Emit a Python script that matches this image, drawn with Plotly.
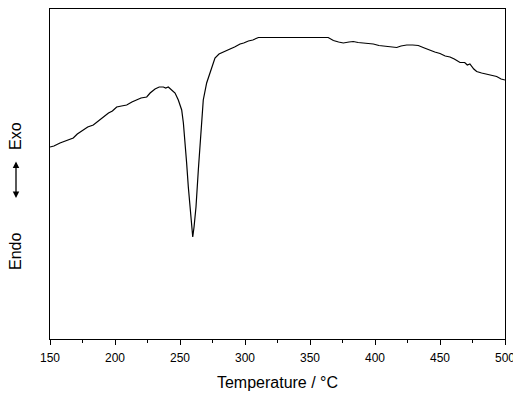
import plotly.graph_objects as go

temperature = [150, 153, 157.7, 162, 167.9, 171, 175.6, 179, 183.3, 187, 191, 195, 198, 201.3, 205, 209,
               213, 216.7, 220, 224.4, 227, 230.8, 234, 237.2, 239, 241, 243.5, 246.2, 248.7, 250, 251.3,
               252.6, 253.8, 255.1, 256.4, 257.7, 259, 259.8, 260.8, 262.3, 264.1, 265.9, 267.9, 270.5,
               273, 276.9, 280, 282, 285, 288.5, 292, 296.2, 299, 302.6, 306, 310.3, 364, 368, 372, 375.6,
               380, 383.3, 387, 391, 395, 398.7, 403, 409, 413, 416.7, 420, 424.4, 429, 433.3, 438, 442.3,
               446, 450, 454, 457.7, 461, 465.4, 469, 471, 473, 476, 478.2, 482, 485.9, 490, 493.6, 497, 500]
heat_flow = [192, 193, 196, 198, 201, 205, 209, 212, 214, 218, 222, 226, 228, 232, 233, 234,
             237, 239, 241, 242, 246, 250, 252, 252, 251, 252, 249, 246, 239, 234, 229,
             216, 199, 176, 152, 129, 112, 102, 112, 132, 169, 202, 239, 256,
             265, 281, 285, 286, 288, 290, 292, 295, 296, 298, 299, 301.5, 301.5, 298.5, 297, 296,
             297, 297.5, 296.5, 296, 295.5, 295, 293.5, 292.5, 292, 291.5, 293, 294, 294, 293.5, 291, 288.5,
             287, 285.5, 283, 282, 280, 276.5, 276.5, 274, 275, 270, 267.5, 266, 265, 264, 262.5, 260, 259]

x_ticks = [150, 200, 250, 300, 350, 400, 450, 500]

fig = go.Figure()
fig.add_trace(go.Scatter(x=temperature, y=heat_flow, mode="lines",
                         line=dict(color="black", width=1.2), showlegend=False))

font = "Arial, Liberation Sans, sans-serif"
fig.update_layout(
    width=521, height=397,
    margin=dict(l=42, r=24, t=1, b=66),
    paper_bgcolor="white", plot_bgcolor="white",
    font=dict(family=font, color="black"),
    xaxis=dict(range=[150, 500], tickvals=x_ticks, ticks="outside", ticklen=5, tickwidth=1,
               tickcolor="black", showline=True, mirror=True, linecolor="black", linewidth=1,
               showgrid=False, zeroline=False, tickfont=dict(size=12, family=font),
               ticklabelstandoff=3,
               minor=dict(dtick=25, tick0=150, ticks="outside", ticklen=3, tickcolor="black", showgrid=False),
               title=dict(text="Temperature / °C", font=dict(size=16, family=font), standoff=12)),
    yaxis=dict(range=[0, 330], showticklabels=False, ticks="", showline=True, mirror=True,
               linecolor="black", linewidth=1, showgrid=False, zeroline=False),
)

# page has an 8px body offset; positions below are window pixels
def px_x(px):
    return (px - 50) / 455.0

def px_y(py):
    return (339 - py) / 330.0

fig.add_annotation(x=px_x(15), y=px_y(136), xref="paper", yref="paper", text="Exo", textangle=-90,
                   xanchor="center", yanchor="middle", showarrow=False, font=dict(size=16, family=font))
fig.add_annotation(x=px_x(15), y=px_y(252), xref="paper", yref="paper", text="Endo", textangle=-90,
                   xanchor="center", yanchor="middle", showarrow=False, font=dict(size=16, family=font))
fig.add_annotation(x=px_x(16), y=px_y(198), xref="paper", yref="paper", ax=0, ay=-38, text="",
                   showarrow=True, arrowhead=2, startarrowhead=2, arrowside="end+start",
                   arrowsize=1, arrowwidth=1.3, arrowcolor="black")

fig.write_html("out.html")
